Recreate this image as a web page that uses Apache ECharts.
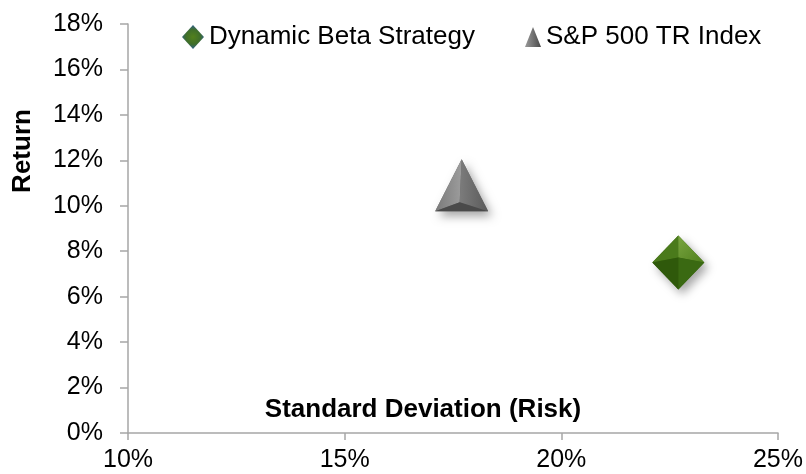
<!DOCTYPE html>
<html>
<head>
<meta charset="utf-8">
<script src="https://cdn.jsdelivr.net/npm/echarts@6/dist/echarts.min.js"></script>
<style>
html,body{margin:0;padding:0;background:#fff;}
#chart{width:806px;height:474px;}
</style>
</head>
<body>
<div id="chart"></div>
<script>
// ---- Data ----
const seriesNames = ['Dynamic Beta Strategy', 'S&P 500 TR Index'];
const dynamicBeta = [[22.7, 7.5]];   // [std dev %, return %]
const sp500 = [[17.7, 10.9]];
const xTicks = [10, 15, 20, 25];
const yTicks = [0, 2, 4, 6, 8, 10, 12, 14, 16, 18];
const xAxisTitle = 'Standard Deviation (Risk)';
const yAxisTitle = 'Return';

const FONT = '"Liberation Sans", Arial, sans-serif';
const chart = echarts.init(document.getElementById('chart'));

function diamondItem(params, api) {
  const c = api.coord([api.value(0), api.value(1)]);
  const x = c[0], y = c[1], w = 26, h = 27;
  const T = [x, y - h], R = [x + w, y], B = [x, y + h], L = [x - w, y], C = [x, y - 5];
  return {
    type: 'group',
    children: [
      { type: 'polygon', shape: { points: [T, R, B, L] },
        style: { fill: '#3b6612', shadowBlur: 10, shadowOffsetX: 4, shadowOffsetY: 5, shadowColor: 'rgba(0,0,0,0.35)' } },
      { type: 'polygon', shape: { points: [T, C, L] }, style: { fill: '#4a7a1b' } },
      { type: 'polygon', shape: { points: [T, R, C] }, style: { fill: new echarts.graphic.LinearGradient(0, 0, 1, 1, [{offset: 0, color: '#7aa640'}, {offset: 1, color: '#4f7f1d'}]) } },
      { type: 'polygon', shape: { points: [R, B, C] }, style: { fill: '#3a6912' } },
      { type: 'polygon', shape: { points: [B, L, C] }, style: { fill: '#2f590b' } }
    ]
  };
}

function triangleItem(params, api) {
  const c = api.coord([api.value(0), api.value(1)]);
  const x = c[0], y = c[1], w = 26.5, h = 26;
  const A = [x, y - h], BL = [x - w, y + h], BR = [x + w, y + h], C = [x - 2, y + 17];
  return {
    type: 'group',
    children: [
      { type: 'polygon', shape: { points: [A, BR, BL] },
        style: { fill: '#666', shadowBlur: 10, shadowOffsetX: 4, shadowOffsetY: 5, shadowColor: 'rgba(0,0,0,0.35)' } },
      { type: 'polygon', shape: { points: [A, C, BL] }, style: { fill: new echarts.graphic.LinearGradient(0, 0, 1, 0, [{offset: 0, color: '#7a7a7a'}, {offset: 1, color: '#9c9c9c'}]) } },
      { type: 'polygon', shape: { points: [A, BR, C] }, style: { fill: new echarts.graphic.LinearGradient(0, 0, 1, 0, [{offset: 0, color: '#7c7c7c'}, {offset: 1, color: '#5a5a5a'}]) } },
      { type: 'polygon', shape: { points: [BL, C, BR] }, style: { fill: '#4a4a4a' } }
    ]
  };
}

const diamondIconColor = new echarts.graphic.RadialGradient(0.5, 0.5, 0.6, [
  {offset: 0, color: '#52801c'}, {offset: 0.55, color: '#3f6e2a'}, {offset: 1, color: '#2f5fa8'}]);
const triIconColor = new echarts.graphic.LinearGradient(0, 0, 1, 0, [
  {offset: 0, color: '#9a9a9a'}, {offset: 1, color: '#4a4a4a'}]);

const option = {
  backgroundColor: '#fff',
  animation: false,
  textStyle: { fontFamily: FONT },
  grid: { left: 128, right: 26, top: 24, bottom: 41, containLabel: false },
  legend: [
    {
      left: 177, top: 19, padding: 5,
      itemWidth: 22, itemHeight: 24, itemGap: 44, itemTextGap: 16,
      textStyle: { fontSize: 26, color: '#000', fontFamily: FONT },
      data: [{ name: seriesNames[0], icon: 'diamond', itemStyle: { color: diamondIconColor } }]
    },
    {
      left: 520, top: 19, padding: 5,
      itemWidth: 16, itemHeight: 20, itemTextGap: 4,
      textStyle: { fontSize: 26, color: '#000', fontFamily: FONT },
      data: [{ name: seriesNames[1], icon: 'triangle', itemStyle: { color: triIconColor } }]
    }
  ],
  xAxis: {
    type: 'value', min: xTicks[0], max: xTicks[xTicks.length - 1], interval: 5,
    name: xAxisTitle, nameLocation: 'middle', nameGap: -36,
    nameTextStyle: { fontSize: 26, fontWeight: 'bold', color: '#000', fontFamily: FONT, padding: [0, 60, 0, 0] },
    axisLine: { show: true, lineStyle: { color: '#a6a6a6', width: 1.5 } },
    axisTick: { show: true, length: 7, lineStyle: { color: '#a6a6a6', width: 1.5 } },
    axisLabel: { fontSize: 25, color: '#000', margin: 15, formatter: '{value}%', fontFamily: FONT },
    splitLine: { show: false }
  },
  yAxis: {
    type: 'value', min: yTicks[0], max: yTicks[yTicks.length - 1], interval: 2,
    name: yAxisTitle, nameLocation: 'middle', nameRotate: 90, nameGap: 92,
    nameTextStyle: { fontSize: 26, fontWeight: 'bold', color: '#000', fontFamily: FONT, padding: [0, 0, 0, 155] },
    axisLine: { show: true, lineStyle: { color: '#a6a6a6', width: 1.5 } },
    axisTick: { show: true, length: 8, lineStyle: { color: '#a6a6a6', width: 1.5 } },
    axisLabel: { fontSize: 25, color: '#000', margin: 25, formatter: '{value}%', fontFamily: FONT },
    splitLine: { show: false }
  },
  series: [
    { name: seriesNames[0], type: 'custom', renderItem: diamondItem, data: dynamicBeta,
      itemStyle: { color: '#3b6612' }, encode: { x: 0, y: 1 } },
    { name: seriesNames[1], type: 'custom', renderItem: triangleItem, data: sp500,
      itemStyle: { color: '#6a6a6a' }, encode: { x: 0, y: 1 } }
  ]
};
chart.setOption(option);
</script>
</body>
</html>
